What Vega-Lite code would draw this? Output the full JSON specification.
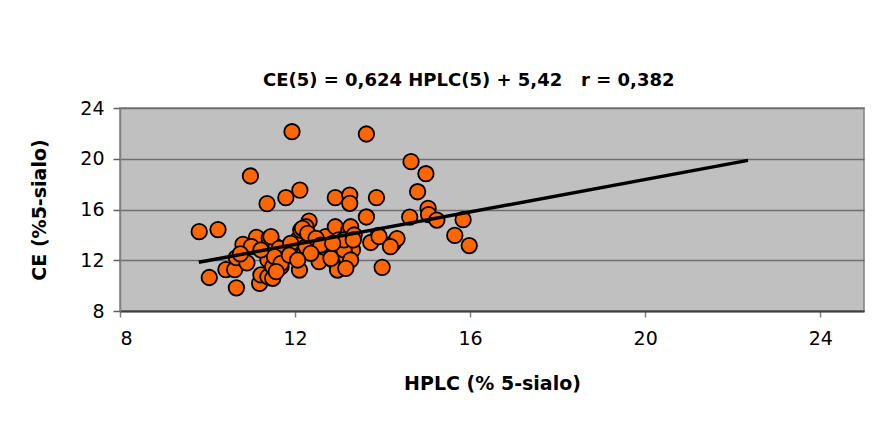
{
  "$schema": "https://vega.github.io/schema/vega-lite/v6.json",
  "width": 744,
  "height": 203,
  "autosize": "none",
  "padding": {"left": 120, "top": 108, "right": 22, "bottom": 110},
  "background": "white",
  "title": {
    "text": "CE(5) = 0,624 HPLC(5) + 5,42\u00a0\u00a0\u00a0r = 0,382",
    "font": "DejaVu Sans",
    "fontSize": 18,
    "fontWeight": "bold",
    "color": "black",
    "anchor": "start",
    "frame": "group",
    "dx": 143,
    "baseline": "alphabetic",
    "offset": -5
  },
  "config": {
    "view": {"fill": "#C0C0C0", "stroke": "#808080", "strokeWidth": 1.5},
    "axis": {
      "labelFont": "DejaVu Sans",
      "labelFontSize": 19,
      "labelColor": "black",
      "titleFont": "DejaVu Sans",
      "titleFontSize": 19,
      "titleFontWeight": "bold",
      "titleColor": "black"
    }
  },
  "layer": [
    {
      "data": {
        "values": [
          {"hplc": 11.93, "ce": 22.13}, {"hplc": 13.63, "ce": 21.95}, {"hplc": 14.65, "ce": 19.77}, {"hplc": 14.99, "ce": 18.82},
          {"hplc": 10.98, "ce": 18.64}, {"hplc": 14.80, "ce": 17.40}, {"hplc": 12.11, "ce": 17.53}, {"hplc": 11.79, "ce": 16.93},
          {"hplc": 11.36, "ce": 16.46}, {"hplc": 12.92, "ce": 16.93}, {"hplc": 13.25, "ce": 17.14}, {"hplc": 13.25, "ce": 16.49},
          {"hplc": 13.86, "ce": 16.93}, {"hplc": 13.63, "ce": 15.41}, {"hplc": 12.32, "ce": 15.08}, {"hplc": 14.62, "ce": 15.40},
          {"hplc": 15.04, "ce": 16.09}, {"hplc": 15.05, "ce": 15.60}, {"hplc": 15.24, "ce": 15.17}, {"hplc": 15.84, "ce": 15.20},
          {"hplc": 15.65, "ce": 13.96}, {"hplc": 15.98, "ce": 13.16}, {"hplc": 13.99, "ce": 11.44}, {"hplc": 14.24, "ce": 13.33},
          {"hplc": 14.33, "ce": 13.70}, {"hplc": 13.90, "ce": 13.95}, {"hplc": 13.73, "ce": 13.40}, {"hplc": 9.81, "ce": 14.25},
          {"hplc": 10.24, "ce": 14.42}, {"hplc": 10.04, "ce": 10.64}, {"hplc": 10.66, "ce": 9.83}, {"hplc": 10.42, "ce": 11.26},
          {"hplc": 10.62, "ce": 11.26}, {"hplc": 10.81, "ce": 13.25}, {"hplc": 10.66, "ce": 12.20}, {"hplc": 10.90, "ce": 11.80},
          {"hplc": 11.12, "ce": 13.80}, {"hplc": 11.19, "ce": 10.18}, {"hplc": 11.22, "ce": 10.84}, {"hplc": 11.38, "ce": 10.70},
          {"hplc": 11.49, "ce": 10.58}, {"hplc": 11.41, "ce": 13.75}, {"hplc": 11.38, "ce": 12.02}, {"hplc": 11.57, "ce": 13.07},
          {"hplc": 11.49, "ce": 11.49}, {"hplc": 11.68, "ce": 12.15}, {"hplc": 11.68, "ce": 11.49}, {"hplc": 11.87, "ce": 12.81},
          {"hplc": 12.10, "ce": 11.23}, {"hplc": 12.06, "ce": 13.60}, {"hplc": 12.13, "ce": 14.38}, {"hplc": 12.25, "ce": 14.64},
          {"hplc": 12.25, "ce": 13.07}, {"hplc": 12.55, "ce": 12.02}, {"hplc": 12.70, "ce": 13.86}, {"hplc": 12.63, "ce": 12.81},
          {"hplc": 12.86, "ce": 12.02}, {"hplc": 12.92, "ce": 14.64}, {"hplc": 12.97, "ce": 11.23}, {"hplc": 13.00, "ce": 13.60},
          {"hplc": 13.23, "ce": 14.38}, {"hplc": 13.31, "ce": 13.73}, {"hplc": 13.31, "ce": 12.81}, {"hplc": 13.16, "ce": 12.28},
          {"hplc": 12.17, "ce": 14.52}, {"hplc": 12.29, "ce": 14.12}, {"hplc": 11.45, "ce": 13.86}, {"hplc": 11.64, "ce": 12.94},
          {"hplc": 11.53, "ce": 12.28}, {"hplc": 11.68, "ce": 11.76}, {"hplc": 11.57, "ce": 11.10}, {"hplc": 11.90, "ce": 13.33},
          {"hplc": 12.48, "ce": 13.73}, {"hplc": 12.59, "ce": 13.20}, {"hplc": 12.55, "ce": 11.89}, {"hplc": 12.82, "ce": 12.15},
          {"hplc": 13.12, "ce": 12.81}, {"hplc": 13.12, "ce": 13.60}, {"hplc": 12.86, "ce": 13.33}, {"hplc": 12.36, "ce": 12.55},
          {"hplc": 11.87, "ce": 12.41}, {"hplc": 12.06, "ce": 12.02}, {"hplc": 13.27, "ce": 14.64}, {"hplc": 13.35, "ce": 13.99},
          {"hplc": 13.33, "ce": 13.60}, {"hplc": 13.92, "ce": 13.86}, {"hplc": 14.18, "ce": 13.07}, {"hplc": 13.27, "ce": 12.02},
          {"hplc": 13.16, "ce": 11.36}, {"hplc": 11.00, "ce": 13.07}, {"hplc": 11.22, "ce": 12.81}, {"hplc": 10.75, "ce": 12.50}
        ]
      },
      "mark": {"type": "point", "shape": "circle", "filled": true, "fill": "#FF6600", "stroke": "black", "strokeWidth": 1.8, "size": 240, "opacity": 1},
      "encoding": {
        "x": {
          "field": "hplc", "type": "quantitative",
          "scale": {"domain": [8, 25], "nice": false, "zero": false},
          "axis": {
            "title": "HPLC (% 5-sialo)",
            "values": [8, 12, 16, 20, 24],
            "grid": false,
            "domainColor": "#404040", "domainWidth": 2,
            "tickColor": "#808080", "tickWidth": 1.5, "tickSize": 6,
            "labelPadding": 12,
            "titlePadding": 26
          }
        },
        "y": {
          "field": "ce", "type": "quantitative",
          "scale": {"domain": [8, 24], "nice": false, "zero": false},
          "axis": {
            "title": "CE (%5-sialo)",
            "values": [8, 12, 16, 20, 24],
            "grid": true, "gridColor": "#6e6e6e", "gridWidth": 1.6,
            "domainColor": "#808080", "domainWidth": 1.5,
            "tickColor": "#606060", "tickWidth": 1.5, "tickSize": 7,
            "labelPadding": 9,
            "titlePadding": 30
          }
        }
      }
    },
    {
      "data": {"values": [{"hplc": 9.8, "ce": 11.84}, {"hplc": 22.35, "ce": 19.87}]},
      "mark": {"type": "line", "color": "black", "strokeWidth": 3.5},
      "encoding": {
        "x": {"field": "hplc", "type": "quantitative"},
        "y": {"field": "ce", "type": "quantitative"}
      }
    }
  ]
}
